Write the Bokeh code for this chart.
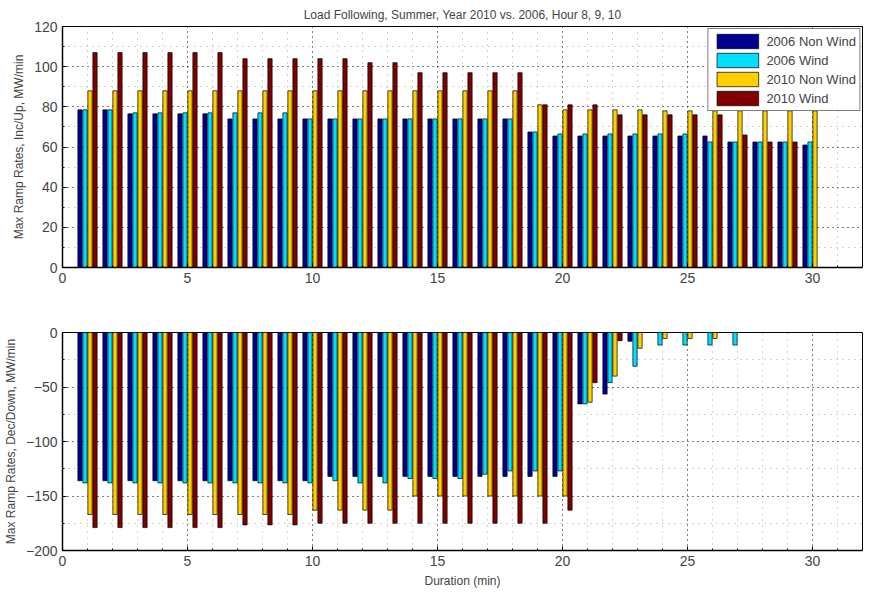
from bokeh.plotting import figure
from bokeh.layouts import column
from bokeh.models import ColumnDataSource, Legend, LegendItem, Range1d, FixedTicker
from bokeh.embed import file_html
from bokeh.resources import INLINE

durations = list(range(1, 31))
names = ["2006 Non Wind", "2006 Wind", "2010 Non Wind", "2010 Wind"]
colors = ["#00008f", "#00dfff", "#ffcf00", "#800000"]

up_2006_nw = [78.5, 78.5, 76.5, 76.5, 76.5, 76.5] + [74] * 12 + [67.5] + [65.5] * 7 + [62.5, 62.5, 62.5, 61]
up_2006_w = [78.5, 78.5, 77, 77, 77, 77, 77, 77, 77] + [74] * 9 + [67.5] + [66.5] * 6 + [62.5] * 5
up_2010_nw = [88] * 18 + [81, 78.5, 78.5, 78.5, 78.5] + [78] * 7
up_2010_w = [107] * 6 + [104] * 5 + [102, 102] + [97] * 5 + [81, 81, 81, 76, 76, 76, 76, 76, 66, 62.5, 62.5, 0]

dn_2006_nw = [-136] * 10 + [-132] * 10 + [-65.5, -56.5, -8] + [0] * 7
dn_2006_w = [-138] * 10 + [-136, -138, -138, -134, -134, -134, -130, -127, -127, -127] + [-65.5, -46, -31, -11.5, -11.5, -11.5, -11.5, 0, 0, 0]
dn_2010_nw = [-167] * 9 + [-163] * 4 + [-150] * 7 + [-64, -40, -14.5, -5.5, -5.5, -5.5, 0, 0, 0, 0]
dn_2010_w = [-179] * 6 + [-176.5] * 3 + [-175] * 10 + [-163, -46, -7.5] + [0] * 8

offsets = [-0.3, -0.1, 0.1, 0.3]
FONT = "Liberation Sans"


def make_fig(series, ylo, yhi, ylabel, title=None, xlabel=None, legend=False, height=290):
    p = figure(width=866, height=height, output_backend="svg", toolbar_location=None,
               x_range=Range1d(0, 32), y_range=Range1d(ylo, yhi), title=title)
    renderers = []
    for vals, off, c in zip(series, offsets, colors):
        src = ColumnDataSource(dict(x=[d + off for d in durations], top=vals))
        r = p.vbar(x="x", top="top", bottom=0, width=0.17, source=src,
                   fill_color=c, line_color="black", line_width=0.7)
        renderers.append(r)
    p.xaxis.ticker = FixedTicker(ticks=[0, 5, 10, 15, 20, 25, 30],
                                 minor_ticks=[1, 2, 3, 4, 6, 7, 8, 9, 11, 12, 13, 14, 16, 17, 18, 19,
                                              21, 22, 23, 24, 26, 27, 28, 29, 31])
    step = 20 if yhi > 0 else 50
    p.yaxis.ticker = FixedTicker(ticks=list(range(ylo, yhi + 1, step)),
                                 minor_ticks=list(range(ylo + step // 2, yhi, step)))
    for ax in (p.xaxis, p.yaxis):
        ax.major_label_text_font = FONT
        ax.major_label_text_font_size = "14px"
        ax.axis_label_text_font = FONT
        ax.axis_label_text_font_size = "12px"
        ax.axis_label_text_font_style = "normal"
        ax.major_tick_in = 4
        ax.major_tick_out = 0
        ax.minor_tick_out = 0
        ax.minor_tick_in = 2
        ax.axis_line_width = 1.5
    p.yaxis.axis_label = ylabel
    if xlabel:
        p.xaxis.axis_label = xlabel
    p.grid.grid_line_color = "black"
    p.grid.grid_line_dash = "1 4"
    p.grid.minor_grid_line_color = "#aaaaaa"
    p.grid.minor_grid_line_dash = "1 5"
    p.outline_line_color = "black"
    p.background_fill_color = "white"
    p.min_border_left = 62
    p.min_border_right = 4
    p.min_border_top = 12
    if title:
        p.title.text_font = FONT
        p.title.text_font_size = "12px"
        p.title.text_font_style = "normal"
        p.title.align = "center"
    if legend:
        lg = Legend(items=[LegendItem(label=n, renderers=[r]) for n, r in zip(names, renderers)],
                    location="top_right", label_text_font=FONT, label_text_font_size="13px",
                    border_line_color="black", spacing=1, padding=3, glyph_width=52,
                    glyph_height=18, label_height=18, margin=2, label_standoff=3)
        p.add_layout(lg)
    return p


top = make_fig([up_2006_nw, up_2006_w, up_2010_nw, up_2010_w], 0, 120,
               "Max Ramp Rates, Inc/Up, MW/min",
               title="Load Following, Summer, Year 2010 vs. 2006, Hour 8, 9, 10", legend=True,
               height=285)
bottom = make_fig([dn_2006_nw, dn_2006_w, dn_2010_nw, dn_2010_w], -200, 0,
                  "Max Ramp Rates, Dec/Down, MW/min", xlabel="Duration (min)", height=270)

layout = column(top, bottom, spacing=35)
open("out.html", "w").write(file_html(layout, INLINE))
